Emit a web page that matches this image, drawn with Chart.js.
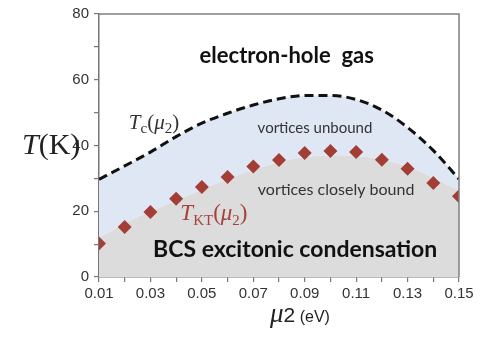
<!DOCTYPE html>
<html lang="en">
<head>
  <meta charset="UTF-8">
  <title>Excitonic phase diagram</title>
  <script src="https://cdn.jsdelivr.net/npm/chart.js"></script>
  <style>
    body {
      margin: 0;
      background: #fff;
    }
    canvas {
      display: block;
    }
  </style>
</head>
<body>
  <canvas id="phaseChart" width="487" height="339"></canvas>

  <script>
    // mu_2 in eV
    const mu = [0.01, 0.02, 0.03, 0.04, 0.05, 0.06, 0.07, 0.08, 0.09, 0.10, 0.11, 0.12, 0.13, 0.14, 0.15];
    // T_KT(mu_2) diamonds, K
    const tKT = [10.2, 15.2, 19.8, 23.8, 27.4, 30.4, 33.6, 35.6, 37.7, 38.3, 38.0, 35.7, 32.9, 28.6, 24.6];
    // T_c(mu_2) dashed curve, K
    const tC = [29.7, 33.8, 38.0, 42.7, 46.8, 49.8, 52.3, 54.2, 55.2, 55.2, 54.0, 50.8, 45.5, 38.5, 29.8];
    // upper edge of the grey (closely bound) region, K
    const boundEdge = [12.0, 16.3, 20.0, 23.2, 26.6, 29.8, 32.6, 35.0, 36.5, 37.0, 36.8, 35.8, 33.5, 30.2, 26.4];

    const yTicks = [0, 20, 40, 60, 80];

    const pts = (ys) => mu.map((x, i) => ({ x: x, y: ys[i] }));

    // region labels, positioned in data units
    const labels = [
      { text: 'electron-hole  gas', x: 0.083, y: 67.3, font: 'bold 22px Lato', color: '#111' },
      { text: 'vortices unbound', x: 0.094, y: 45.2, font: '15px Lato', color: '#333' },
      { text: 'vortices closely bound', x: 0.1022, y: 26.6, font: '16px Lato', color: '#333' },
      { text: 'BCS excitonic condensation', x: 0.0863, y: 8.2, font: 'bold 23px Lato', color: '#111' }
    ];

    // draw a run of [text, font, dy] pieces
    function drawRich(ctx, parts, x, y, color, align) {
      ctx.save();
      ctx.fillStyle = color;
      ctx.textBaseline = 'alphabetic';
      ctx.textAlign = 'left';
      let w = 0;
      parts.forEach(p => { ctx.font = p[1]; w += ctx.measureText(p[0]).width; });
      let cx = align === 'center' ? x - w / 2 : x;
      parts.forEach(p => {
        ctx.font = p[1];
        ctx.fillText(p[0], cx, y + (p[2] || 0));
        cx += ctx.measureText(p[0]).width;
      });
      ctx.restore();
    }

    const annotate = {
      id: 'annotate',
      afterDraw(chart) {
        const ctx = chart.ctx;
        const xs = chart.scales.x, ys = chart.scales.y;
        const a = chart.chartArea;

        // top and right frame
        ctx.save();
        ctx.strokeStyle = '#808080';
        ctx.lineWidth = 1.5;
        ctx.beginPath();
        ctx.moveTo(a.left, a.top);
        ctx.lineTo(a.right, a.top);
        ctx.lineTo(a.right, a.bottom);
        ctx.stroke();
        ctx.restore();

        ctx.save();
        ctx.textAlign = 'center';
        ctx.textBaseline = 'middle';
        labels.forEach(l => {
          ctx.font = l.font;
          ctx.fillStyle = l.color;
          ctx.fillText(l.text, xs.getPixelForValue(l.x), ys.getPixelForValue(l.y));
        });
        ctx.restore();

        const serif = '"Liberation Serif", serif';
        // T_c(mu_2)
        drawRich(ctx, [
          ['T', 'italic 21px ' + serif],
          ['c', '15px ' + serif, 4],
          ['(', '21px ' + serif],
          ['\u03bc', 'italic 21px ' + serif],
          ['2', '15px ' + serif, 4],
          [')', '21px ' + serif]
        ], xs.getPixelForValue(0.0314), ys.getPixelForValue(45.0), '#333', 'center');

        // T_KT(mu_2)
        drawRich(ctx, [
          ['T', 'italic 23px ' + serif],
          ['KT', '15px ' + serif, 5],
          ['(', '23px ' + serif],
          ['\u03bc', 'italic 23px ' + serif],
          ['2', '15px ' + serif, 5],
          [')', '23px ' + serif]
        ], xs.getPixelForValue(0.0547), ys.getPixelForValue(17.2), '#a6413c', 'center');

        // axis titles
        drawRich(ctx, [
          ['T', 'italic 30px ' + serif],
          ['(K)', '30px ' + serif]
        ], 22, ys.getPixelForValue(37.5), '#222', 'left');

        drawRich(ctx, [
          ['\u03bc', 'italic 27px ' + serif],
          ['2', '21px "Liberation Sans", Arial'],
          [' (eV)', '16px "Liberation Sans", Arial']
        ], xs.getPixelForValue(0.0765), 322, '#222', 'left');
      }
    };

    new Chart(document.getElementById('phaseChart'), {
      type: 'line',
      data: {
        datasets: [
          {
            label: 'bound edge',
            data: pts(boundEdge),
            borderWidth: 0,
            pointRadius: 0,
            fill: 'origin',
            backgroundColor: '#dcdcdc',
            cubicInterpolationMode: 'monotone',
            order: 2
          },
          {
            label: 'Tc',
            data: pts(tC),
            borderColor: '#111',
            borderWidth: 3,
            borderDash: [9, 5],
            pointRadius: 0,
            fill: '-1',
            backgroundColor: '#dfe7f4',
            cubicInterpolationMode: 'monotone',
            order: 1
          },
          {
            label: 'TKT',
            data: pts(tKT),
            showLine: false,
            pointStyle: 'rectRot',
            pointRadius: 7,
            pointBorderWidth: 0,
            pointBackgroundColor: '#a33e37',
            order: 0
          }
        ]
      },
      options: {
        responsive: false,
        animation: false,
        layout: { padding: { top: 13, right: 28, left: 0, bottom: 0 } },
        plugins: {
          legend: { display: false },
          tooltip: { enabled: false },
          filler: { drawTime: 'beforeDatasetsDraw' }
        },
        scales: {
          x: {
            type: 'linear',
            min: 0.01,
            max: 0.15,
            afterFit: (s) => { s.height = 62; },
            grid: { drawOnChartArea: false, tickLength: 5, color: '#777', lineWidth: 1.2 },
            border: { color: '#777', width: 1.5 },
            ticks: {
              stepSize: 0.01,
              autoSkip: false,
              maxRotation: 0,
              padding: 3,
              color: '#333',
              font: { family: '"Liberation Sans", Arial', size: 15 },
              callback: (v) => Math.round(v * 100) % 2 === 1 ? v.toFixed(2) : ''
            }
          },
          y: {
            min: 0,
            max: 80,
            afterFit: (s) => { s.width = 99; },
            grid: { drawOnChartArea: false, tickLength: 5, color: '#777', lineWidth: 1.2 },
            border: { color: '#777', width: 1.5 },
            ticks: {
              stepSize: 10,
              padding: 5,
              color: '#333',
              font: { family: '"Liberation Sans", Arial', size: 15 },
              callback: (v) => yTicks.includes(v) ? String(v) : ''
            }
          }
        }
      },
      plugins: [annotate]
    });
  </script>
</body>
</html>
